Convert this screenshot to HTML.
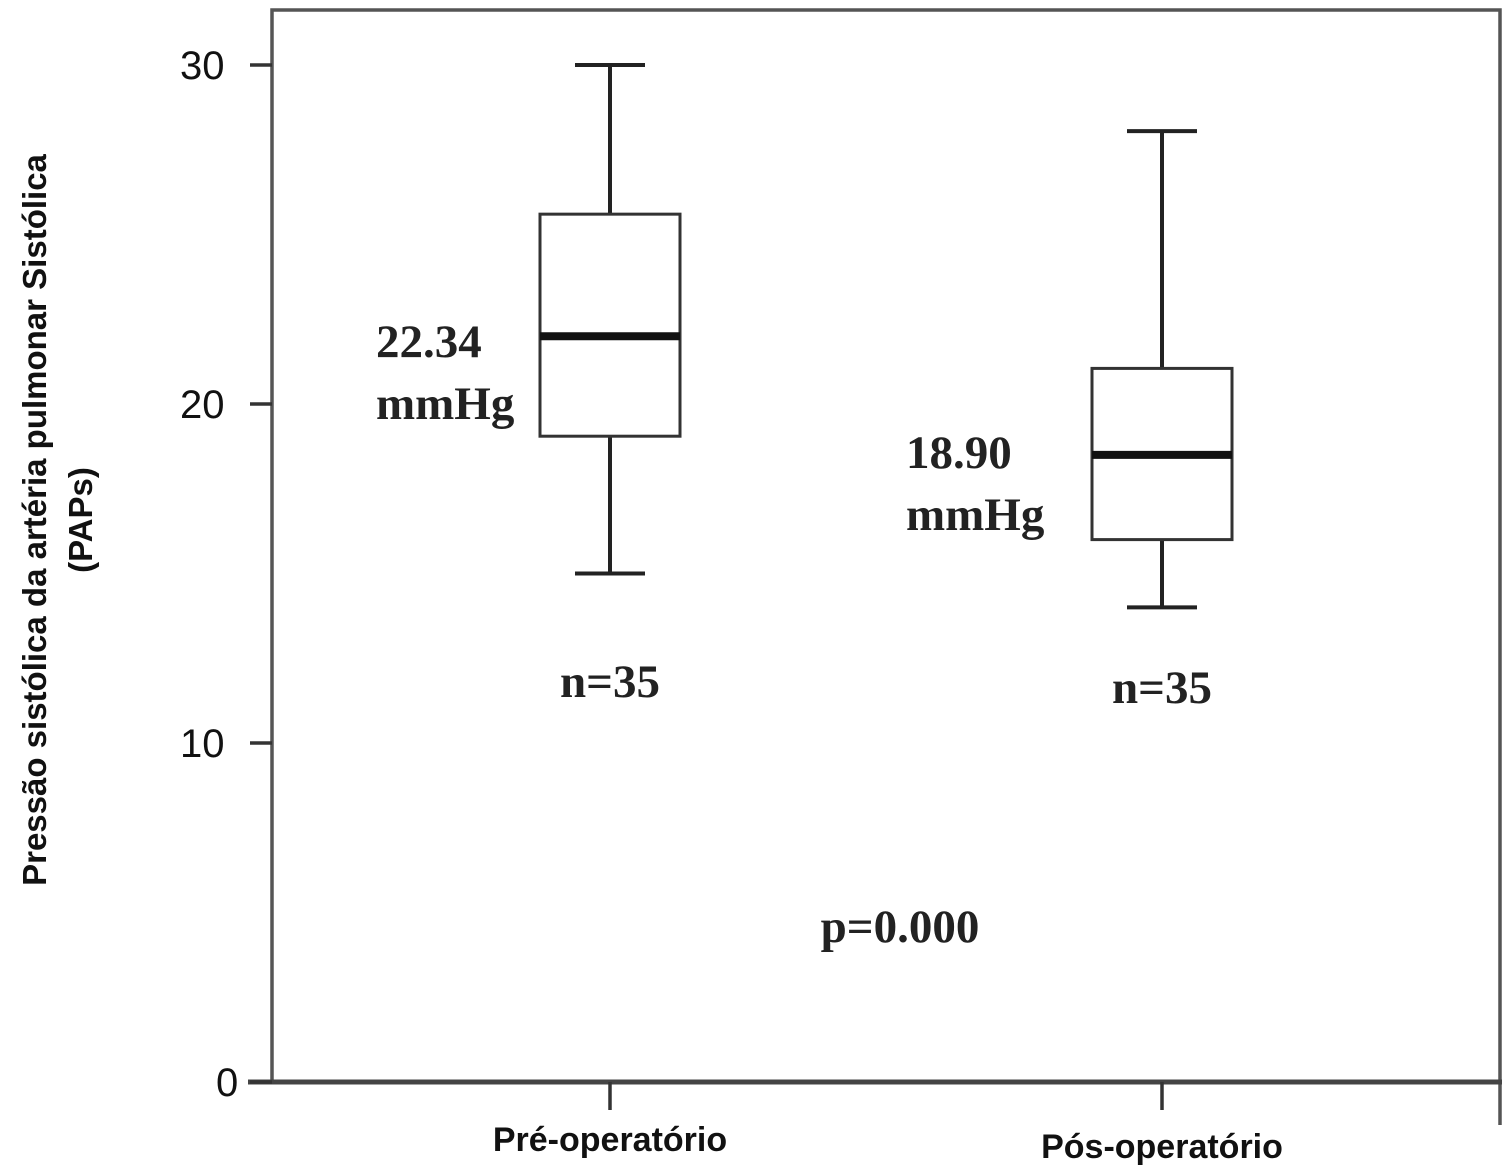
<!DOCTYPE html>
<html><head><meta charset="utf-8"><style>
body{margin:0;background:#fff;width:1508px;height:1172px;overflow:hidden}
svg{display:block}
</style></head><body>
<svg id="chart" width="1508" height="1172" xmlns="http://www.w3.org/2000/svg"></svg>
<script>
const categories = ["Pré-operatório", "Pós-operatório"];
const whiskerLow = [15.0, 14.0];
const q1 = [19.05, 16.0];
const median = [22.0, 18.5];
const q3 = [25.6, 21.05];
const whiskerHigh = [30.0, 28.05];
const meanLabels = [["22.34","mmHg"], ["18.90","mmHg"]];
const nLabels = ["n=35", "n=35"];
const yTicks = [0, 10, 20, 30];

const svg = document.getElementById('chart');
const NS = 'http://www.w3.org/2000/svg';
const y = v => 1082 - v * 33.9;
const xc = [610, 1162];
function el(tag, attrs, parent){const e=document.createElementNS(NS,tag);for(const k in attrs)e.setAttribute(k,attrs[k]);(parent||svg).appendChild(e);return e;}

let f = el('path',{d:'M272 1082 V10 H1500 V1125',fill:'none',stroke:'#555',"stroke-width":3.5});


let xa = el('line',{x1:248,y1:1082,x2:1502,y2:1082,stroke:'#444',"stroke-width":5});



yTicks.forEach(t=>{
  const tk = el('line',{x1:250,x2:272,y1:y(t),y2:y(t),stroke:'#333',"stroke-width":3.5});
  
  
  const lb = el('text',{x:t===0?216:180,y:y(t)+14,"font-family":"Liberation Sans, sans-serif","font-size":40,fill:'#111'});
  lb.textContent = t;
  
  
});

categories.forEach((c,i)=>{
  const cx = xc[i];
  const g = el('g',{});
  
  
  el('line',{x1:cx,x2:cx,y1:y(whiskerHigh[i]),y2:y(q3[i]),stroke:'#222',"stroke-width":4},g);
  el('line',{x1:cx,x2:cx,y1:y(q1[i]),y2:y(whiskerLow[i]),stroke:'#222',"stroke-width":4},g);
  el('line',{x1:cx-35,x2:cx+35,y1:y(whiskerHigh[i]),y2:y(whiskerHigh[i]),stroke:'#222',"stroke-width":4},g);
  el('line',{x1:cx-35,x2:cx+35,y1:y(whiskerLow[i]),y2:y(whiskerLow[i]),stroke:'#222',"stroke-width":4},g);
  el('rect',{x:cx-70,y:y(q3[i]),width:140,height:y(q1[i])-y(q3[i]),fill:'#fff',stroke:'#333',"stroke-width":3},g);
  el('line',{x1:cx-70,x2:cx+70,y1:y(median[i]),y2:y(median[i]),stroke:'#111',"stroke-width":8},g);
  const tk = el('line',{x1:cx,x2:cx,y1:1082,y2:1110,stroke:'#333',"stroke-width":3.5});
  
  
  const lb = el('text',{x:cx,y:i===0?1151:1158,"text-anchor":"middle","font-family":"Liberation Sans, sans-serif","font-weight":"bold","font-size":34,fill:'#111'});
  lb.textContent = c;
  
  
  const mx = i===0?376:906, my = i===0?357:468;
  const m = el('text',{x:mx,y:my,"font-family":"Liberation Serif, serif","font-size":47,"font-weight":"bold",fill:'#222'});
  m.textContent = meanLabels[i][0];
  
  
  const m2 = el('text',{x:mx,y:my+62,"font-family":"Liberation Serif, serif","font-size":47,"font-weight":"bold",fill:'#222'});
  m2.textContent = meanLabels[i][1];
  
  
  const n = el('text',{x:cx,y:i===0?697:703,"text-anchor":"middle","font-family":"Liberation Serif, serif","font-size":47,"font-weight":"bold",fill:'#222'});
  n.textContent = nLabels[i];
  
  
});

const p = el('text',{x:900,y:942,"text-anchor":"middle","font-family":"Liberation Serif, serif","font-size":47,"font-weight":"bold",fill:'#222'});
p.textContent = 'p=0.000';



const yt = el('text',{transform:'translate(46,520) rotate(-90)',"text-anchor":"middle","font-family":"Liberation Sans, sans-serif","font-weight":"bold","font-size":33,fill:'#111'});


const t1 = el('tspan',{x:0,y:0},yt); t1.textContent='Pressão sistólica da artéria pulmonar Sistólica';
const t2 = el('tspan',{x:0,y:46},yt); t2.textContent='(PAPs)';
</script>
</body></html>
